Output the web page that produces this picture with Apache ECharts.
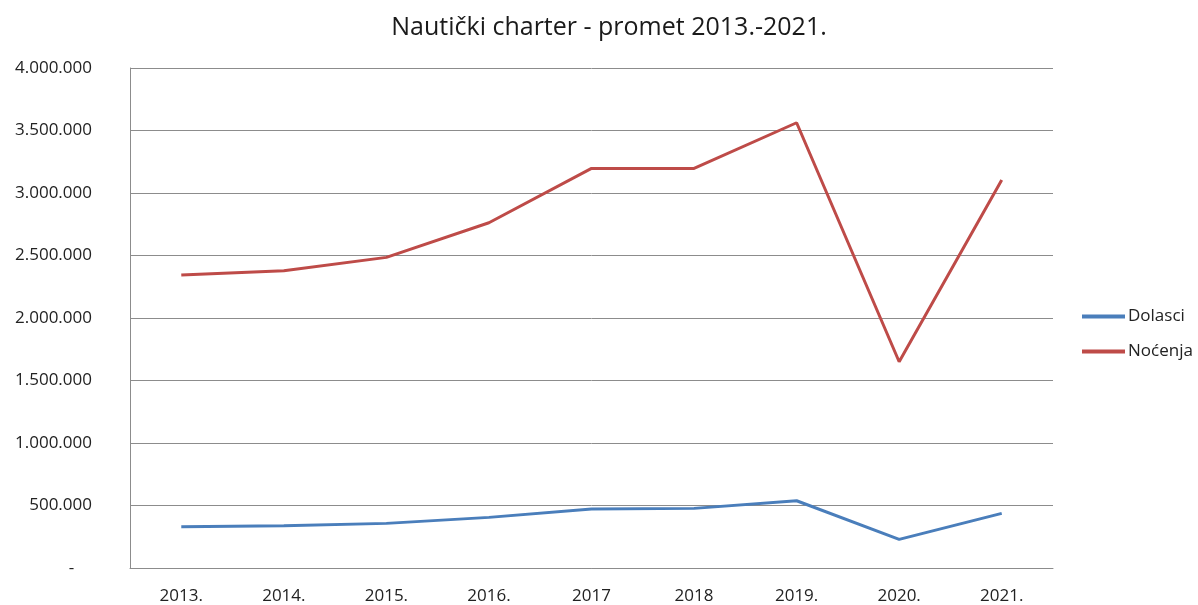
<!DOCTYPE html>
<html>
<head>
<meta charset="utf-8">
<script src="https://cdn.jsdelivr.net/npm/echarts@6/dist/echarts.min.js"></script>
</head>
<body style="margin:0;padding:0;background:#fff">
<div id="chart" style="width:1198px;height:605px;"></div>
<script>
var years = ['2013.', '2014.', '2015.', '2016.', '2017', '2018', '2019.', '2020.', '2021.'];
var dolasci = [330000, 338000, 357000, 405000, 472000, 477000, 538000, 229000, 437000];
var nocenja = [2344000, 2378000, 2485000, 2762000, 3197000, 3197000, 3562000, 1650000, 3104000];

function fmt(v) {
    if (v === 0) return '-    ';
    return String(v).replace(/\B(?=(\d{3})+(?!\d))/g, '.');
}

var chart = echarts.init(document.getElementById('chart'));
var font = '"Open Sans", "DejaVu Sans", sans-serif';
chart.setOption({
    animation: false,
    title: {
        text: 'Nautički charter - promet 2013.-2021.',
        left: 604, top: 10, textAlign: 'center',
        textStyle: {fontFamily: font, fontSize: 25, fontWeight: 'normal', color: '#1a1a1a'}
    },
    legend: {
        orient: 'vertical', left: 1077, top: 303,
        itemWidth: 43, itemHeight: 4, itemGap: 18,
        icon: 'rect',
        textStyle: {fontFamily: font, fontSize: 17, color: '#222', padding: [0, 0, 0, -2]},
        data: ['Dolasci', 'Noćenja']
    },
    grid: {left: 130, right: 145, top: 68, bottom: 37},
    xAxis: {
        type: 'category', data: years, boundaryGap: true,
        axisLine: {lineStyle: {color: '#8c8c8c', width: 1}},
        axisTick: {show: false},
        axisLabel: {fontFamily: font, fontSize: 17, color: '#222', margin: 20}
    },
    yAxis: {
        type: 'value', min: 0, max: 4000000, interval: 500000,
        axisLine: {show: true, lineStyle: {color: '#8c8c8c', width: 1}},
        axisTick: {show: false},
        splitLine: {lineStyle: {color: '#8c8c8c', width: 1}},
        axisLabel: {fontFamily: font, fontSize: 17, color: '#222', margin: 38, formatter: fmt}
    },
    series: [
        {name: 'Dolasci', type: 'line', data: dolasci, symbol: 'none',
         lineStyle: {color: '#4a7ebb', width: 3}, itemStyle: {color: '#4a7ebb'}},
        {name: 'Noćenja', type: 'line', data: nocenja, symbol: 'none',
         lineStyle: {color: '#be4b48', width: 3}, itemStyle: {color: '#be4b48'}}
    ]
});
</script>
</body>
</html>
